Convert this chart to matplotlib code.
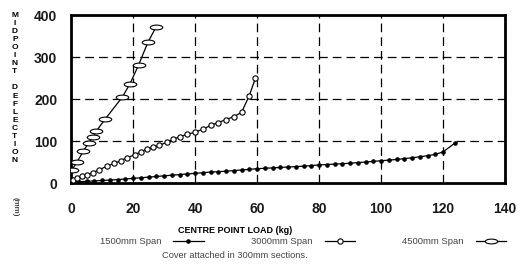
import numpy as np
import matplotlib
matplotlib.use('Agg')
import matplotlib.pyplot as plt
from matplotlib.path import Path
from matplotlib.transforms import Affine2D

plt.rcParams['font.family'] = ['Liberation Sans', 'DejaVu Sans']

# 1500mm span
x15 = [0, 2.5, 5, 7.5, 10, 12.5, 15, 17.5, 20, 22.5, 25, 27.5, 30, 32.5, 35, 37.5,
       40, 42.5, 45, 47.5, 50, 52.5, 55, 57.5, 60, 62.5, 65, 67.5, 70, 72.5, 75, 77.5,
       80, 82.5, 85, 87.5, 90, 92.5, 95, 97.5, 100, 102.5, 105, 107.5, 110, 112.5,
       115, 117.5, 120, 124]
y15 = [2, 3, 4, 5, 6, 7, 8, 9.5, 11, 12.5, 14, 15.5, 17, 18.5, 20, 21.5,
       23, 24.5, 26, 27, 28, 29.5, 31, 32.5, 34, 35, 36, 37, 38, 39, 40, 41.5,
       43, 44, 45, 46, 47, 48.5, 50, 51.5, 53, 54.5, 56, 58, 60, 62.5,
       65, 68, 74, 96]

# 3000mm span
x30 = [0.5, 2, 3.5, 5, 7, 9, 11.5, 14, 16, 18, 20.5, 22.5, 24.5, 26.5, 28.5, 31,
       33, 35, 37.5, 40, 42.5, 45, 47.5, 50, 52.5, 55, 57.5, 59.5]
y30 = [8, 12, 16, 19, 25, 31, 40, 47, 53, 60, 67, 74, 81, 85, 90, 97,
       104, 110, 116, 121, 128, 137, 144, 151, 158, 168, 208, 250]

# 4500mm span
x45 = [0.3, 2, 4, 5.7, 7.2, 8.2, 11, 16.5, 19, 21.8, 24.8, 27.4]
y45 = [31, 51, 76, 96, 110, 124, 152, 204, 236, 281, 335, 371]

xticks = [0, 20, 40, 60, 80, 100, 120, 140]
yticks = [0, 100, 200, 300, 400]

ellipse = Path.unit_circle().transformed(Affine2D().scale(2.6, 1.0))

fig = plt.figure(figsize=(5.28, 2.69), dpi=100)
ax = fig.add_axes([0.1345, 0.3197, 0.822, 0.6245])

ax.plot(x15, y15, color='black', lw=0.9, marker='o', ms=2.3, mfc='black', mec='black',
        label='1500mm Span', zorder=3)
ax.plot(x30, y30, color='black', lw=0.9, marker='o', ms=3.8, mfc='white', mec='black',
        mew=0.8, label='3000mm Span', zorder=3)
ax.plot(x45, y45, color='black', lw=0.9, marker=ellipse, ms=9, mfc='white', mec='black',
        mew=0.8, label='4500mm Span', zorder=3)

ax.set_xlim(0, 140)
ax.set_ylim(0, 400)
ax.set_xticks(xticks)
ax.set_yticks(yticks)
ax.grid(True, color='black', lw=0.9, ls=(0, (7, 4)))
ax.set_axisbelow(True)
for s in ax.spines.values():
    s.set_linewidth(2)
ax.tick_params(length=0)
ax.tick_params(axis='y', pad=10)
ax.tick_params(axis='x', pad=14)
for lab in ax.get_xticklabels() + ax.get_yticklabels():
    lab.set_fontsize(10)
    lab.set_fontweight('bold')
    lab.set_color('#1a1a1a')

ax.set_xlabel('CENTRE POINT LOAD (kg)', fontsize=6.5, fontweight='bold')
ax.xaxis.set_label_coords(0.378, -0.255)

fig.text(0.028, 0.673, 'M\nI\nD\nP\nO\nI\nN\nT\n\nD\nE\nF\nL\nE\nC\nT\nI\nO\nN',
         fontsize=6, fontweight='bold', ha='center', va='center', linespacing=1.22)
fig.text(0.028, 0.23, '(mm)', fontsize=6, rotation=270, ha='center', va='center')

leg = ax.legend(ncol=3, markerfirst=False, frameon=False, loc='center',
                bbox_to_anchor=(0.534, -0.35), fontsize=6.8, handlelength=3.2,
                handletextpad=1.3, columnspacing=5.0)
for t in leg.get_texts():
    t.set_color('#444444')

fig.text(0.307, 0.04, 'Cover attached in 300mm sections.', fontsize=6.7, color='#444444')

fig.savefig('out.png', dpi=100)
